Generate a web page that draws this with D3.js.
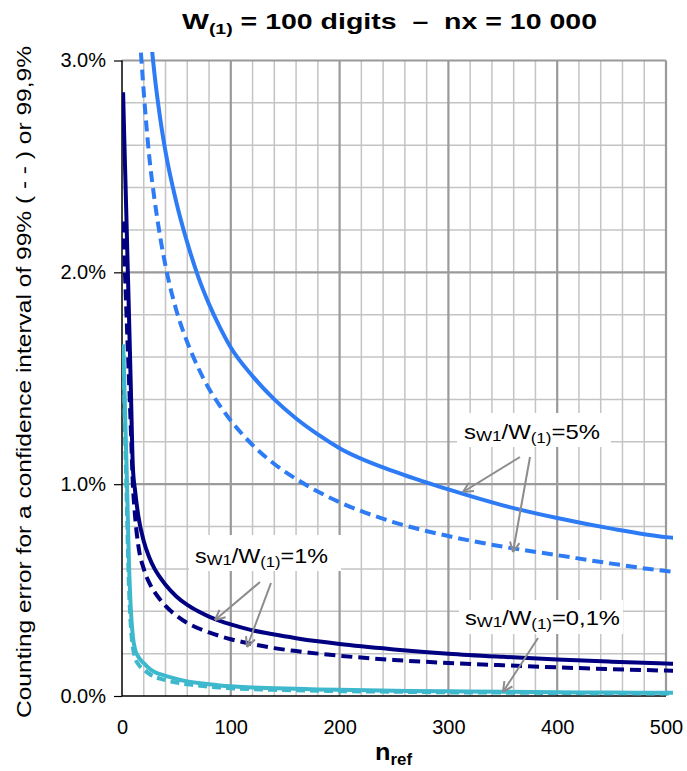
<!DOCTYPE html>
<html><head><meta charset="utf-8">
<script src="https://cdn.jsdelivr.net/npm/d3@7"></script>
<style>body{margin:0;background:#fff}svg{display:block}text{font-family:Arial,"Liberation Sans",sans-serif}</style>
</head><body><svg id="c" width="687" height="771"></svg>
<script>
// n_ref values (x)
const nRef = [1,2,3,4,5,6,8,10,12,15,20,25,30,35,40,50,60,70,80,90,100,120,140,160,180,200,250,300,350,400,450,500,510];
// counting error in % — solid = 99,9 %, dashed = 99 %
const s5_999 = [null,null,null,null,null,null,null,null,null,4.2,3.6,3.2,2.93,2.73,2.57,2.33,2.14,1.98,1.85,1.74,1.645,1.51,1.40,1.31,1.235,1.17,1.06,0.975,0.90,0.84,0.79,0.75,0.745];
const s5_99  = [null,null,null,null,null,null,null,4.0,3.6,3.25,2.85,2.55,2.34,2.17,2.03,1.82,1.67,1.55,1.45,1.37,1.30,1.185,1.095,1.025,0.965,0.915,0.82,0.755,0.705,0.665,0.625,0.59,0.585];
const s1_999 = [2.85,2.65,2.46,2.27,2.07,1.88,1.48,1.08,0.97,0.85,0.73,0.655,0.60,0.56,0.525,0.47,0.43,0.40,0.375,0.355,0.338,0.31,0.29,0.273,0.258,0.245,0.22,0.2,0.185,0.172,0.162,0.153,0.151];
const s1_99  = [2.24,2.10,1.96,1.82,1.68,1.55,1.28,1.00,0.85,0.71,0.60,0.535,0.49,0.455,0.425,0.38,0.345,0.32,0.30,0.283,0.268,0.245,0.226,0.212,0.20,0.19,0.17,0.156,0.145,0.135,0.127,0.12,0.119];
const s01_999 = [1.66,1.50,1.30,1.12,0.92,0.70,0.42,0.28,0.22,0.185,0.155,0.13,0.113,0.103,0.095,0.08,0.069,0.061,0.055,0.05,0.046,0.04,0.037,0.034,0.031,0.029,0.025,0.022,0.02,0.018,0.016,0.015,0.015];
const s01_99  = [1.62,1.42,1.20,1.00,0.78,0.58,0.34,0.23,0.18,0.15,0.125,0.105,0.09,0.082,0.075,0.063,0.055,0.049,0.044,0.04,0.037,0.032,0.029,0.027,0.025,0.023,0.02,0.017,0.016,0.014,0.013,0.012,0.012];
const xTicks = [0,100,200,300,400,500];
const yTicks = [0,1,2,3];

const svg = d3.select("#c");
const L=122, R=666, T=60.5, B=696;
const x = d3.scaleLinear().domain([0,500]).range([L,R]);
const y = d3.scaleLinear().domain([0,3]).range([B,T]);

// grid
const g = svg.append("g");
d3.range(20,500,20).filter(v=>v%100!==0).forEach(v=>{
  g.append("line").attr("x1",x(v)).attr("x2",x(v)).attr("y1",T).attr("y2",B).attr("stroke","#c4c4c4").attr("stroke-width",1.5);
});
d3.range(0.2,3,0.2).filter(v=>Math.abs(v-Math.round(v))>0.01).forEach(v=>{
  g.append("line").attr("x1",L).attr("x2",R).attr("y1",y(v)).attr("y2",y(v)).attr("stroke","#c4c4c4").attr("stroke-width",1.5);
});
[100,200,300,400,500].forEach(v=>{
  g.append("line").attr("x1",x(v)).attr("x2",x(v)).attr("y1",T).attr("y2",B).attr("stroke","#9a9a9a").attr("stroke-width",2.2);
});
[1,2,3].forEach(v=>{
  g.append("line").attr("x1",L).attr("x2",R).attr("y1",y(v)).attr("y2",y(v)).attr("stroke","#9a9a9a").attr("stroke-width",2.2);
});

// axes
const ya = svg.append("g").attr("transform",`translate(${L},0)`)
  .call(d3.axisLeft(y).tickValues(yTicks).tickSize(8).tickPadding(8).tickFormat(d=>d.toFixed(1)+"%"));
ya.select(".domain").remove();
ya.selectAll("line").attr("stroke","#000").attr("stroke-width",1.2);
ya.selectAll("text").attr("font-size",20).attr("fill","#000").attr("font-family","Arial, Liberation Sans, sans-serif");
const xa = svg.append("g").attr("transform",`translate(0,${B})`)
  .call(d3.axisBottom(x).tickValues(xTicks).tickSize(0).tickPadding(24));
xa.select(".domain").remove();
xa.selectAll("text").attr("font-size",20).attr("fill","#000").attr("font-family","Arial, Liberation Sans, sans-serif");
svg.append("line").attr("x1",L).attr("x2",L).attr("y1",T).attr("y2",B).attr("stroke","#000").attr("stroke-width",1.5);
svg.append("line").attr("x1",L).attr("x2",R).attr("y1",B).attr("y2",B).attr("stroke","#000").attr("stroke-width",1.5);

// clip
svg.append("defs").append("clipPath").attr("id","cp").append("rect").attr("x",L).attr("y",52).attr("width",673-L).attr("height",B-52);

const series = [
  {v:s01_99, c:"#3db8cc", d:"9,5"},
  {v:s01_999,c:"#3db8cc", d:null},
  {v:s1_99,  c:"#000080", d:"11,6"},
  {v:s1_999, c:"#000080", d:null},
  {v:s5_99,  c:"#2e7bf6", d:"11,6"},
  {v:s5_999, c:"#2e7bf6", d:null}
];
const line = d3.line().defined(d=>d[1]!=null).x(d=>x(d[0])).y(d=>y(d[1])).curve(d3.curveMonotoneX);
const lg = svg.append("g").attr("clip-path","url(#cp)");
series.forEach(s=>{
  lg.append("path").datum(nRef.map((n,i)=>[n,s.v[i]]))
    .attr("d",line).attr("fill","none").attr("stroke",s.c).attr("stroke-width",4)
    .attr("stroke-dasharray",s.d).attr("stroke-linejoin","round");
});

// annotations
function label(tx,ty,rect,pct,len){
  svg.append("rect").attr("x",rect[0]).attr("y",rect[1]).attr("width",rect[2]).attr("height",rect[3]).attr("fill","#fff");
  const t = svg.append("text").attr("x",tx).attr("y",ty).attr("font-size",21).attr("fill","#000")
    .attr("textLength",len).attr("lengthAdjust","spacingAndGlyphs");
  t.append("tspan").text("s");
  t.append("tspan").attr("font-size",15).attr("dy",2).text("W1");
  t.append("tspan").attr("font-size",21).attr("dy",-2).text("/W");
  t.append("tspan").attr("font-size",15).attr("dy",4).text("(1)");
  t.append("tspan").attr("font-size",21).attr("dy",-4).text("="+pct);
}
label(464,439,[457,413,154,34],"5%",136);
label(195,563,[189,535,152,36],"1%",133);
label(465,625,[459,600,164,34],"0,1%",155);

function arrow(x1,y1,x2,y2){
  svg.append("line").attr("x1",x1).attr("y1",y1).attr("x2",x2).attr("y2",y2).attr("stroke","#8c8c8c").attr("stroke-width",2);
  const a = Math.atan2(y2-y1,x2-x1), h=11, w=0.45;
  [a+Math.PI-w, a+Math.PI+w].forEach(b=>{
    svg.append("line").attr("x1",x2).attr("y1",y2).attr("x2",x2+h*Math.cos(b)).attr("y2",y2+h*Math.sin(b)).attr("stroke","#8c8c8c").attr("stroke-width",2);
  });
}
arrow(520,457,463,492);
arrow(530,457,513,552);
arrow(260,582,215,620);
arrow(271,583,247,647);
arrow(538,638,503,692);

// title
const tt = svg.append("text").attr("x",182).attr("y",29).attr("font-weight","bold").attr("font-size",22)
  .attr("textLength",415).attr("lengthAdjust","spacingAndGlyphs").attr("xml:space","preserve");
tt.append("tspan").text("W");
tt.append("tspan").attr("font-size",15).attr("dy",5).text("(1)");
tt.append("tspan").attr("dy",-5).text(" = 100 digits  \u2013  nx = 10 000");

// x title
const xt = svg.append("text").attr("x",375).attr("y",760).attr("font-weight","bold").attr("font-size",24)
  .attr("textLength",37).attr("lengthAdjust","spacingAndGlyphs");
xt.append("tspan").text("n");
xt.append("tspan").attr("font-size",16).attr("dy",5).text("ref");

// y title
svg.append("text").attr("transform","translate(31,382) rotate(-90)").attr("text-anchor","middle").attr("font-size",21)
  .attr("textLength",672).attr("lengthAdjust","spacingAndGlyphs")
  .text("Counting error for a confidence interval of 99% ( - - ) or 99,9%");
</script></body></html>
